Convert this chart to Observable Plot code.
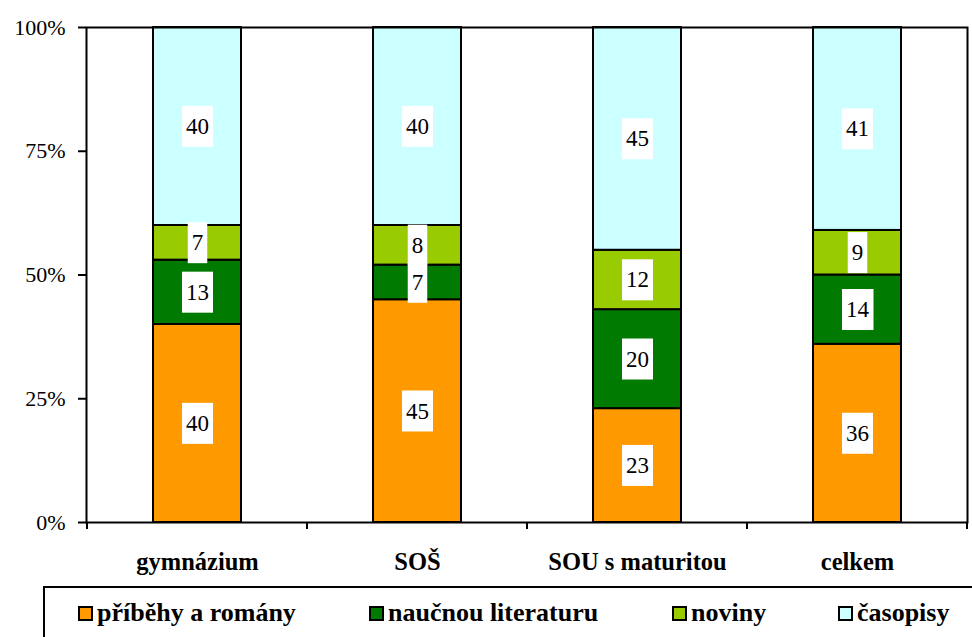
<!DOCTYPE html>
<html>
<head>
<meta charset="utf-8">
<script src="https://cdn.jsdelivr.net/npm/d3@7"></script>
<script src="https://cdn.jsdelivr.net/npm/@observablehq/plot@0.6"></script>
<style>
  body { margin: 0; background: #fff; }
  #wrap { position: relative; width: 972px; height: 637px; overflow: hidden; color: #000;
          font-family: 'Liberation Serif', serif; }
  #wrap svg { display: block; }
  .legend { position: absolute; left: 43px; top: 586px; width: 960px; height: 70px;
            border-top: 2px solid #000; border-left: 2px solid #000; box-sizing: border-box; }
  .item { position: absolute; top: 10px; height: 30px; line-height: 30px; display: flex;
          align-items: center; font-weight: bold; font-size: 26px; white-space: nowrap; }
  .sw { width: 15px; height: 15px; border: 2px solid #000; box-sizing: border-box; margin-right: 4px; }
</style>
</head>
<body>
<div id="wrap"></div>
<script>
// School types (x) and reading categories (stacked series), values in %
const categories = ["gymnázium", "SOŠ", "SOU s maturitou", "celkem"];
const series = ["příběhy a romány", "naučnou literaturu", "noviny", "časopisy"];
const pribehyARomany = [40, 45, 23, 36];
const naucnouLiteraturu = [13, 7, 20, 14];
const noviny = [7, 8, 12, 9];
const casopisy = [40, 40, 45, 41];
const colors = ["#FF9900", "#007A00", "#99CC00", "#CCFFFF"];
const yTicks = [0, 25, 50, 75, 100];
const legendLeft = [33, 324, 627, 793];

const serifFont = "'Liberation Serif', serif";

const seriesValues = [pribehyARomany, naucnouLiteraturu, noviny, casopisy];
const data = categories.flatMap((cat, i) =>
  series.map((s, j) => ({cat, series: s, value: seriesValues[j][i]}))
);

const padInner = 0.6;

// Tick marks on the category boundaries below the x axis
function boundaryTicks(index, scales) {
  const x = scales.x, y = scales.y;
  const step = x(categories[1]) - x(categories[0]);
  const xs = categories.map(c => x(c) - step * padInner / 2);
  xs.push(x(categories[categories.length - 1]) + step * (1 - padInner / 2));
  const y0 = y(0);
  const g = d3.create("svg:g");
  g.selectAll("line").data(xs).join("line")
    .attr("x1", d => d).attr("x2", d => d)
    .attr("y1", y0).attr("y2", y0 + 7)
    .attr("stroke", "#000").attr("stroke-width", 2);
  return g.node();
}

const chart = Plot.plot({
  width: 972,
  height: 585,
  marginTop: 27,
  marginBottom: 63,
  marginLeft: 86,
  marginRight: 5,
  style: {fontFamily: serifFont, background: "#fff", color: "#000", overflow: "visible"},
  x: {domain: categories, paddingInner: padInner, paddingOuter: padInner / 2, label: null},
  y: {domain: [0, 100], label: null},
  color: {domain: series, range: colors},
  marks: [
    Plot.barY(data, {x: "cat", y: "value", z: "series", fill: "series", order: series,
                     stroke: "#000", strokeWidth: 2}),
    Plot.frame({stroke: "#000", strokeWidth: 2}),
    Plot.axisY({ticks: yTicks, tickFormat: d => d + "%", tickSize: 8, tickPadding: 13,
                fontSize: 22, strokeWidth: 2, label: null}),
    Plot.axisX({tickSize: 0, tickPadding: 30, fontSize: 24.5, fontWeight: "bold", label: null}),
    boundaryTicks,
    Plot.text(data, Plot.stackY({x: "cat", y: "value", z: "series", order: series,
                                 text: d => String(d.value), fontSize: 23, fill: "#000"}))
  ]
});

const wrap = document.getElementById("wrap");
wrap.appendChild(chart);
chart.setAttribute("font-family", serifFont);

// White boxes behind the value labels
const ns = "http://www.w3.org/2000/svg";
chart.querySelectorAll('g[aria-label="text"] text').forEach(t => {
  const b = t.getBBox();
  const w = b.width + 8, h = 41;
  const r = document.createElementNS(ns, "rect");
  r.setAttribute("x", b.x + b.width / 2 - w / 2);
  r.setAttribute("y", b.y + b.height / 2 - h / 2);
  r.setAttribute("width", w);
  r.setAttribute("height", h);
  r.setAttribute("fill", "#fff");
  const tr = t.getAttribute("transform");
  if (tr) r.setAttribute("transform", tr);
  t.parentNode.insertBefore(r, t);
});

// Legend
const legend = document.createElement("div");
legend.className = "legend";
series.forEach((s, i) => {
  const item = document.createElement("div");
  item.className = "item";
  item.style.left = legendLeft[i] + "px";
  const sw = document.createElement("span");
  sw.className = "sw";
  sw.style.background = colors[i];
  item.appendChild(sw);
  item.appendChild(document.createTextNode(s));
  legend.appendChild(item);
});
wrap.appendChild(legend);
</script>
</body>
</html>
